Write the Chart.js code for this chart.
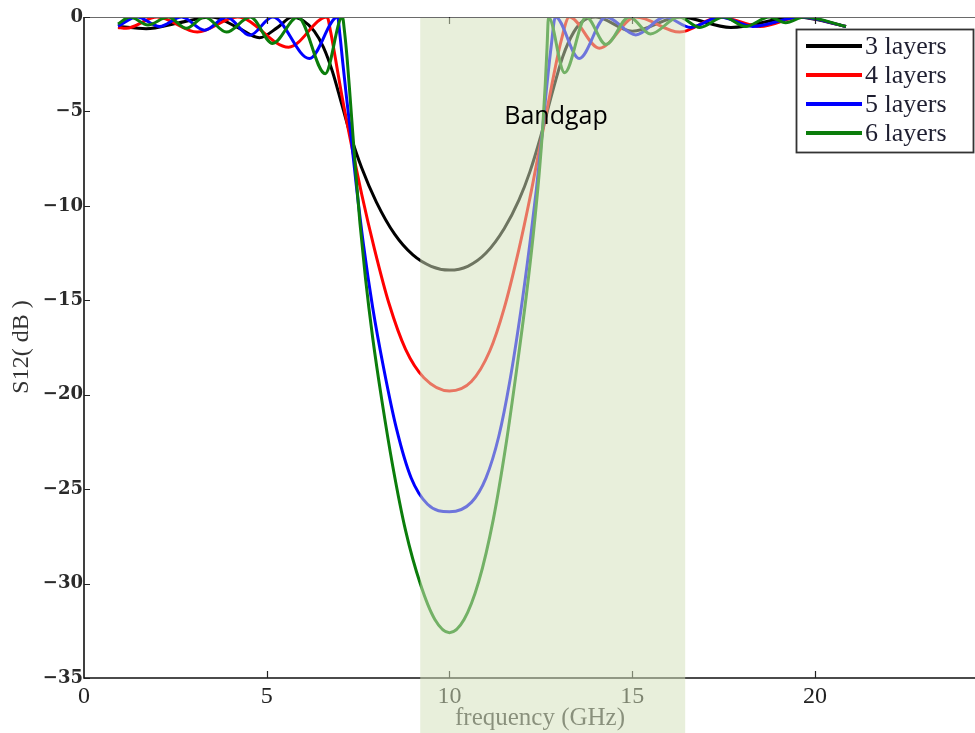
<!DOCTYPE html>
<html>
<head>
<meta charset="utf-8">
<script src="https://cdn.jsdelivr.net/npm/chart.js@4.4.1/dist/chart.umd.min.js"></script>
<style>
  html, body { margin: 0; padding: 0; background: #ffffff; }
  #wrap { width: 975px; height: 733px; position: relative; }
</style>
</head>
<body>
<div id="wrap"><canvas id="c" width="975" height="733"></canvas></div>
<script>
// S12 transmission (dB) of periodic structures versus frequency (GHz)

// 3 layers
const freq3 = [0.93, 1.7, 2.6, 3.5, 4.2, 4.8, 5.3, 5.7, 6.0, 6.3, 6.55, 6.8, 7.05, 7.3, 7.6, 8.0, 8.5, 9.0, 9.5, 10.0,
               10.5, 11.0, 11.5, 11.9, 12.2, 12.5, 12.8, 13.1, 13.4, 13.7, 14.0, 15.0, 16.3, 17.7, 19.5, 20.85];
const s12_3  = [-0.5, -0.62, -0.3, 0, -0.55, -1.1, -0.55, 0, -0.2, -0.75, -1.6, -2.9, -4.6, -6.3, -8.0, -9.8, -11.5, -12.6, -13.2, -13.4,
               -13.2, -12.5, -11.2, -9.7, -8.2, -6.3, -4.1, -2.1, -0.8, -0.15, 0, -0.75, 0, -0.55, 0, -0.5];

// 4 layers
const freq4 = [0.93, 1.15, 2.0, 3.1, 4.2, 5.6, 6.65, 6.75, 6.88, 7.05, 7.3, 7.6, 7.95, 8.35, 8.8, 9.3, 10.0,
               10.6, 11.1, 11.5, 11.9, 12.2, 12.5, 12.8, 13.05, 13.28, 14.1, 15.1, 16.3, 17.4, 18.5, 19.6, 20.85];
const s12_4  = [-0.55, -0.6, 0, -0.8, 0, -1.6, 0, -0.8, -2.2, -4.1, -6.6, -9.4, -12.3, -15.2, -17.6, -19.1, -19.8,
               -19.3, -17.7, -15.4, -12.3, -9.6, -6.6, -3.6, -1.3, 0, -1.65, 0, -0.8, 0, -0.5, 0, -0.5];

// 5 layers
const freq5 = [0.93, 1.45, 2.07, 2.67, 3.3, 3.9, 4.54, 5.16, 6.17, 6.94, 7.0, 7.08, 7.18, 7.3, 7.45, 7.65, 7.9, 8.2, 8.55, 8.95, 9.4, 10.0,
               10.6, 11.0, 11.35, 11.65, 11.95, 12.2, 12.38, 12.52, 12.65, 12.78, 12.9, 13.55, 14.28, 15.1, 15.9, 16.6, 17.4, 18.3, 19.6, 20.85];
const s12_5  = [-0.48, 0, -0.5, 0, -0.7, 0, -0.97, 0, -2.2, 0, -0.9, -2.4, -4.2, -6.2, -8.9, -12.1, -15.4, -18.6, -21.8, -24.4, -25.8, -26.2,
               -25.7, -24.4, -22.2, -19.3, -15.6, -12.0, -9.1, -6.5, -3.9, -1.6, 0, -2.2, 0, -0.95, 0, -0.55, 0, -0.5, 0, -0.5];

// 6 layers
const freq6 = [0.93, 1.26, 1.75, 2.3, 2.8, 3.3, 3.9, 4.55, 5.16, 5.85, 6.6, 7.07, 7.13, 7.2, 7.28, 7.36, 7.45, 7.55, 7.7, 7.9, 8.15, 8.45, 8.8, 9.2, 9.6, 10.0,
               10.4, 10.8, 11.2, 11.55, 11.85, 12.1, 12.3, 12.45, 12.55, 12.62, 12.67, 12.71, 13.15, 13.74, 14.28, 14.92, 15.5, 16.28, 16.85, 17.5, 18.1, 18.75, 19.2, 19.7, 20.85];
const s12_6  = [-0.37, 0, -0.42, 0, -0.6, 0, -0.8, 0, -1.4, 0, -3.0, 0, -0.8, -2.2, -4.2, -6.3, -8.6, -10.9, -13.8, -17.0, -20.3, -23.8, -27.2, -30.0, -31.9, -32.6,
               -31.9, -29.9, -26.6, -22.6, -18.5, -14.8, -11.4, -8.4, -5.9, -3.6, -1.6, 0, -2.95, 0, -1.45, 0, -0.9, 0, -0.55, 0, -0.5, 0, -0.3, 0, -0.5];

const seriesNames = ['3 layers', '4 layers', '5 layers', '6 layers'];
const seriesColors = ['#000000', '#ff0000', '#0000ff', '#0b7d0b'];

const xTicks = [0, 5, 10, 15, 20];
const yTicks = [0, -5, -10, -15, -20, -25, -30, -35];

// shaded stop band
const bandStart = 9.2;
const bandEnd = 16.45;

function pts(xs, ys) { return xs.map((x, i) => ({ x: x, y: ys[i] })); }

const allFreq = [freq3, freq4, freq5, freq6];
const allS12 = [s12_3, s12_4, s12_5, s12_6];

const datasets = seriesNames.map((name, i) => ({
  label: name,
  data: pts(allFreq[i], allS12[i]),
  borderColor: seriesColors[i],
  borderWidth: 3,
  pointRadius: 0,
  fill: false,
  cubicInterpolationMode: 'monotone',
  order: 3 - i
}));

const SERIF = '"Liberation Serif", "Times New Roman", serif';

const framePlugin = {
  id: 'frame',
  afterDraw(chart) {
    const ctx = chart.ctx;
    const { left, right, top, bottom } = chart.chartArea;
    const xs = chart.scales.x, ys = chart.scales.y;
    ctx.save();

    // top border
    ctx.strokeStyle = '#6a6a6a';
    ctx.lineWidth = 1.2;
    ctx.beginPath();
    ctx.moveTo(left, top + 0.5);
    ctx.lineTo(right, top + 0.5);
    ctx.stroke();

    // axis lines
    ctx.strokeStyle = '#111';
    ctx.lineWidth = 1.6;
    ctx.beginPath();
    ctx.moveTo(left, top);
    ctx.lineTo(left, bottom);
    ctx.lineTo(right, bottom);
    ctx.stroke();

    // inward ticks
    ctx.lineWidth = 1.2;
    ctx.strokeStyle = '#222';
    ctx.beginPath();
    xTicks.forEach(v => {
      const px = Math.round(xs.getPixelForValue(v)) + 0.5;
      if (v === 0) return;
      ctx.moveTo(px, bottom); ctx.lineTo(px, bottom - 7);
      ctx.moveTo(px, top); ctx.lineTo(px, top + 7);
    });
    yTicks.forEach(v => {
      const py = Math.round(ys.getPixelForValue(v)) + 0.5;
      ctx.moveTo(left, py); ctx.lineTo(left + 6, py);
    });
    ctx.stroke();

    // axis titles
    ctx.fillStyle = '#3a3a3a';
    ctx.font = '25px ' + SERIF;
    ctx.textAlign = 'center';
    ctx.textBaseline = 'middle';
    ctx.fillText('frequency (GHz)', 540, 718);

    ctx.save();
    ctx.translate(22, 347);
    ctx.rotate(-Math.PI / 2);
    ctx.font = '24px ' + SERIF;
    ctx.fillStyle = '#333';
    ctx.fillText('S12( dB )', 0, 0);
    ctx.restore();

    // translucent stop band drawn over the curves
    const bx0 = xs.getPixelForValue(bandStart);
    const bx1 = xs.getPixelForValue(bandEnd);
    ctx.fillStyle = 'rgba(210, 224, 186, 0.52)';
    ctx.fillRect(bx0, top + 1, bx1 - bx0, chart.height - top - 1);

    // band caption
    ctx.fillStyle = '#000';
    ctx.font = '25px "Open Sans", "Noto Sans", sans-serif';
    ctx.textAlign = 'left';
    ctx.textBaseline = 'middle';
    ctx.fillText('Bandgap', xs.getPixelForValue(11.5), ys.getPixelForValue(-5.3));

    // legend
    const lx = 796.5, ly = 29.5, lw = 177, lh = 123;
    ctx.fillStyle = '#fff';
    ctx.fillRect(lx, ly, lw, lh);
    ctx.strokeStyle = '#333';
    ctx.lineWidth = 1.8;
    ctx.strokeRect(lx, ly, lw, lh);
    const rows = [46, 75, 104, 133];
    seriesNames.forEach((name, i) => {
      ctx.strokeStyle = seriesColors[i];
      ctx.lineWidth = 4;
      ctx.beginPath();
      ctx.moveTo(806, rows[i]);
      ctx.lineTo(862, rows[i]);
      ctx.stroke();
      ctx.fillStyle = '#1e1e30';
      ctx.font = '26px ' + SERIF;
      ctx.textAlign = 'left';
      ctx.textBaseline = 'middle';
      ctx.fillText(name, 865, rows[i] + 1);
    });

    ctx.restore();
  }
};

new Chart(document.getElementById('c'), {
  type: 'line',
  data: { datasets: datasets },
  options: {
    responsive: false,
    animation: false,
    devicePixelRatio: 1,
    layout: { padding: { top: 17, right: 0, left: 0, bottom: 0 } },
    plugins: { legend: { display: false }, tooltip: { enabled: false } },
    scales: {
      x: {
        type: 'linear',
        min: 0,
        max: 24.38,
        grid: { display: false, drawTicks: false },
        border: { display: false },
        afterFit(scale) { scale.height = 55; },
        afterBuildTicks(scale) { scale.ticks = xTicks.map(v => ({ value: v })); },
        ticks: {
          padding: 4,
          color: '#222',
          font: { family: SERIF, size: 24 },
          callback: v => String(v)
        }
      },
      y: {
        type: 'linear',
        min: -35,
        max: 0,
        grid: { display: false, drawTicks: false },
        border: { display: false },
        afterFit(scale) { scale.width = 84; },
        afterBuildTicks(scale) { scale.ticks = yTicks.map(v => ({ value: v })); },
        ticks: {
          padding: 1,
          color: '#2a2a2a',
          font: { family: '"DejaVu Serif", serif', size: 18, weight: 'bold' },
          callback: v => (v < 0 ? '\u2212' + Math.abs(v) : String(v))
        }
      }
    }
  },
  plugins: [framePlugin]
});
</script>
</body>
</html>
